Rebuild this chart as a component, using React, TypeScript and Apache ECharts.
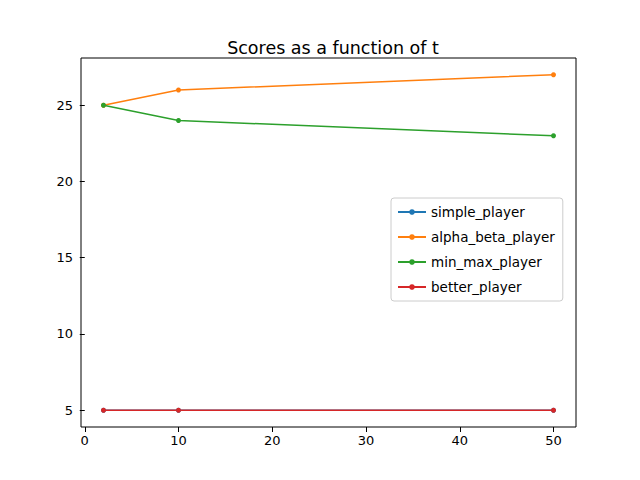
import React, { useEffect, useRef } from 'react';
import * as echarts from 'echarts';

const tValues = [2, 10, 50];
const simplePlayer = [5, 5, 5];
const alphaBetaPlayer = [25, 26, 27];
const minMaxPlayer = [25, 24, 23];
const betterPlayer = [5, 5, 5];
const xTicks = [0, 10, 20, 30, 40, 50];
const yTicks = [5, 10, 15, 20, 25];

const font = 'DejaVu Sans';

const App = () => {
    const chartRef = useRef(null);

    useEffect(() => {
        const myChart = echarts.init(chartRef.current, null, { renderer: 'svg' });

        const mk = (name: string, data: number[], color: string) => ({
            name,
            type: 'line',
            data: tValues.map((t, i) => [t, data[i]]),
            symbol: 'circle',
            symbolSize: 5,
            lineStyle: { width: 1.5, color },
            itemStyle: { color },
        });

        const axisCommon = {
            axisLine: { show: false },
            splitLine: { show: false },
            axisTick: { show: true, inside: false, length: 5, lineStyle: { color: '#000' } },
            axisLabel: { color: '#000', fontSize: 13, fontFamily: font },
        };

        const option = {
            animation: false,
            title: {
                text: 'Scores as a function of t',
                left: 328,
                textAlign: 'center',
                top: 34,
                textStyle: { fontSize: 17.5, fontWeight: 'normal', fontFamily: font, color: '#000' },
            },
            grid: {
                left: 81, right: 64, top: 58, bottom: 53,
                show: true, borderColor: '#000', borderWidth: 1,
            },
            legend: {
                orient: 'vertical',
                left: 391,
                top: 198,
                itemWidth: 28,
                itemHeight: 7,
                itemGap: 11,
                padding: [7, 8, 7, 6],
                borderColor: '#ccc',
                borderWidth: 1,
                borderRadius: 3,
                textStyle: { fontSize: 13.5, fontFamily: font, color: '#000' },
            },
            xAxis: {
                type: 'value',
                min: -0.4,
                max: 52.4,
                ...axisCommon,
                axisTick: { ...axisCommon.axisTick, customValues: xTicks },
                axisLabel: { ...axisCommon.axisLabel, customValues: xTicks, margin: 7 },
            },
            yAxis: {
                type: 'value',
                min: 3.9,
                max: 28.1,
                ...axisCommon,
                axisTick: { ...axisCommon.axisTick, customValues: yTicks },
                axisLabel: { ...axisCommon.axisLabel, customValues: yTicks, margin: 8 },
            },
            series: [
                mk('simple_player', simplePlayer, '#1f77b4'),
                mk('alpha_beta_player', alphaBetaPlayer, '#ff7f0e'),
                mk('min_max_player', minMaxPlayer, '#2ca02c'),
                mk('better_player', betterPlayer, '#d62728'),
            ],
        };

        myChart.setOption(option);
        return () => {
            myChart.dispose();
        };
    }, []);

    return <div ref={chartRef} style={{ width: 640, height: 480, margin: -8 }} />;
};

export default App;
